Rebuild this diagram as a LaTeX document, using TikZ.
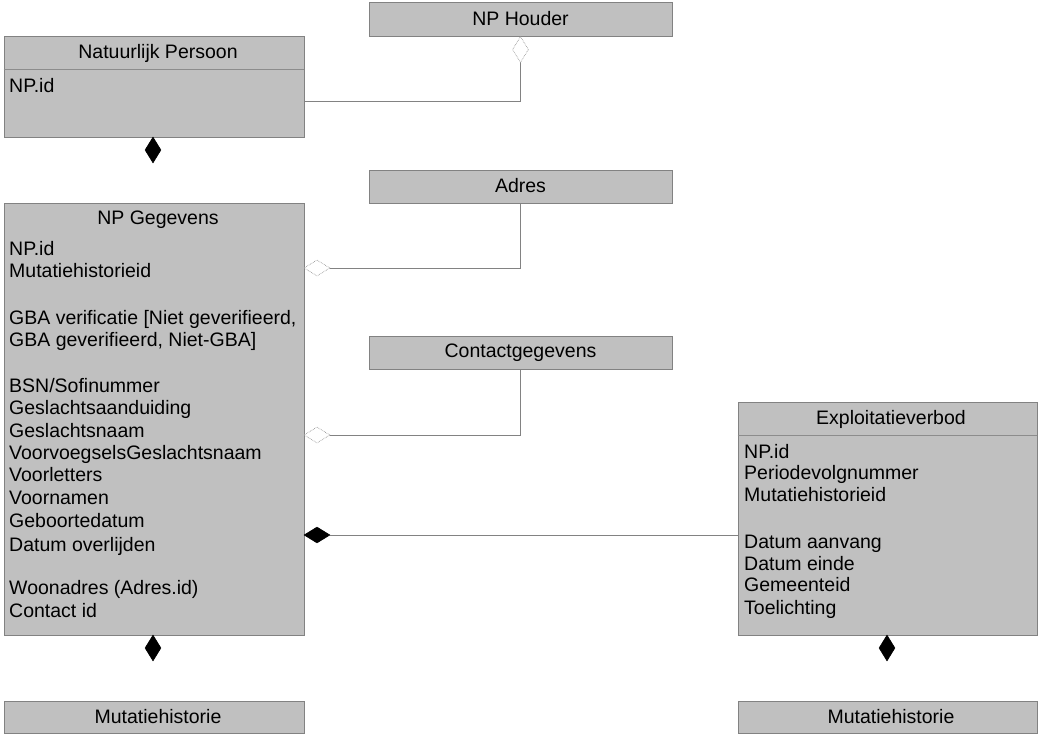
\documentclass[tikz,border=0pt]{standalone}
\usepackage{fontspec}
\setmainfont{Liberation Sans}
\usetikzlibrary{shapes.geometric}
\definecolor{boxfill}{RGB}{192,192,192}
\definecolor{boxedge}{RGB}{130,130,130}
\definecolor{sepline}{RGB}{140,140,140}
\definecolor{conn}{RGB}{130,130,130}
\tikzset{
  box/.style={rectangle, fill=boxfill, draw=boxedge, line width=0.9pt, inner sep=0pt},
  title/.style={font=\fontsize{19.5}{22}\selectfont, inner sep=0pt, anchor=center},
  attr/.style={font=\fontsize{19.5}{22}\selectfont, inner sep=0pt, anchor=base west},
  vdia/.style={diamond, inner sep=0pt, minimum width=16pt, minimum height=26pt},
  hdia/.style={diamond, inner sep=0pt, minimum width=26pt, minimum height=16pt},
  filleddia/.style={fill=black, draw=black, line width=0.5pt},
  opendia/.style={fill=white, draw=conn, line width=0.6pt, densely dotted},
  connector/.style={draw=conn, line width=0.8pt},
  sep/.style={draw=sepline, line width=0.8pt}
}
\begin{document}
\begin{tikzpicture}[x=1pt,y=-1pt]
\useasboundingbox (0,0) rectangle (1045,743);
% boxes
\node[box, minimum width=300pt, minimum height=101pt] (np) at (154,86.5) {};
\node[box, minimum width=303pt, minimum height=34pt] (hold) at (520.5,19) {};
\node[box, minimum width=303pt, minimum height=33pt] (adres) at (520.5,186.5) {};
\node[box, minimum width=303pt, minimum height=33pt] (contact) at (520.5,352.5) {};
\node[box, minimum width=300pt, minimum height=432pt] (npg) at (154,419) {};
\node[box, minimum width=299pt, minimum height=233pt] (expl) at (887.5,518.5) {};
\node[box, minimum width=300pt, minimum height=32pt] (mut1) at (154,717) {};
\node[box, minimum width=299pt, minimum height=32pt] (mut2) at (887.5,717) {};
% separators
\draw[sep] (np.west |- 0,69) -- (np.east |- 0,69);
\draw[sep] (expl.west |- 0,435) -- (expl.east |- 0,435);
% titles
\node[title] (npT) at (158,53) {Natuurlijk Persoon};
\node[title] (holdT) at (520.5,19) {NP Houder};
\node[title] (adresT) at (520.5,186) {Adres};
\node[title] (contactT) at (520.5,353) {Contactgegevens};
\node[title] (npgT) at (158,220) {NP Gegevens};
\node[title] (explT) at (891,419) {Exploitatieverbod};
\node[title] (mut1T) at (158,717) {Mutatiehistorie};
\node[title] (mut2T) at (891,717) {Mutatiehistorie};
% attributes
\node[attr] (npA1) at (9,93) {NP.id};
\foreach \y/\t [count=\i] in {256/NP.id, 278/Mutatiehistorieid,
  325/{GBA verificatie [Niet geverifieerd,}, 347/{GBA geverifieerd, Niet-GBA]},
  393/{BSN/Sofinummer}, 415/Geslachtsaanduiding, 438/Geslachtsnaam,
  460/VoorvoegselsGeslachtsnaam, 482/Voorletters, 504/Voornamen,
  527/Geboortedatum, 551/Datum overlijden, 594/Woonadres (Adres.id), 617/Contact id}
  \node[attr] (npgA\i) at (9,\y) {\t};
\foreach \y/\t [count=\i] in {458/NP.id, 479/Periodevolgnummer, 501/Mutatiehistorieid,
  548/Datum aanvang, 570/Datum einde, 591/Gemeenteid, 614/Toelichting}
  \node[attr] (explA\i) at (744,\y) {\t};
% diamonds
\node[vdia, filleddia] (fd1) at (153,150) {};
\node[vdia, filleddia] (fd2) at (153,648) {};
\node[vdia, filleddia] (fd3) at (887,648) {};
\node[hdia, filleddia] (fd4) at (317,535) {};
\node[vdia, opendia] (od1) at (520.5,49.5) {};
\node[hdia, opendia] (od2) at (317,268) {};
\node[hdia, opendia] (od3) at (317,435) {};
% connectors
\draw[connector] (od1.south) |- ([yshift=-14.5pt]np.east);
\draw[connector] (od2.east) -| (adres.south);
\draw[connector] (od3.east) -| (contact.south);
\draw[connector] (fd4.east) -- (fd4.east -| expl.west);
\end{tikzpicture}
\end{document}
